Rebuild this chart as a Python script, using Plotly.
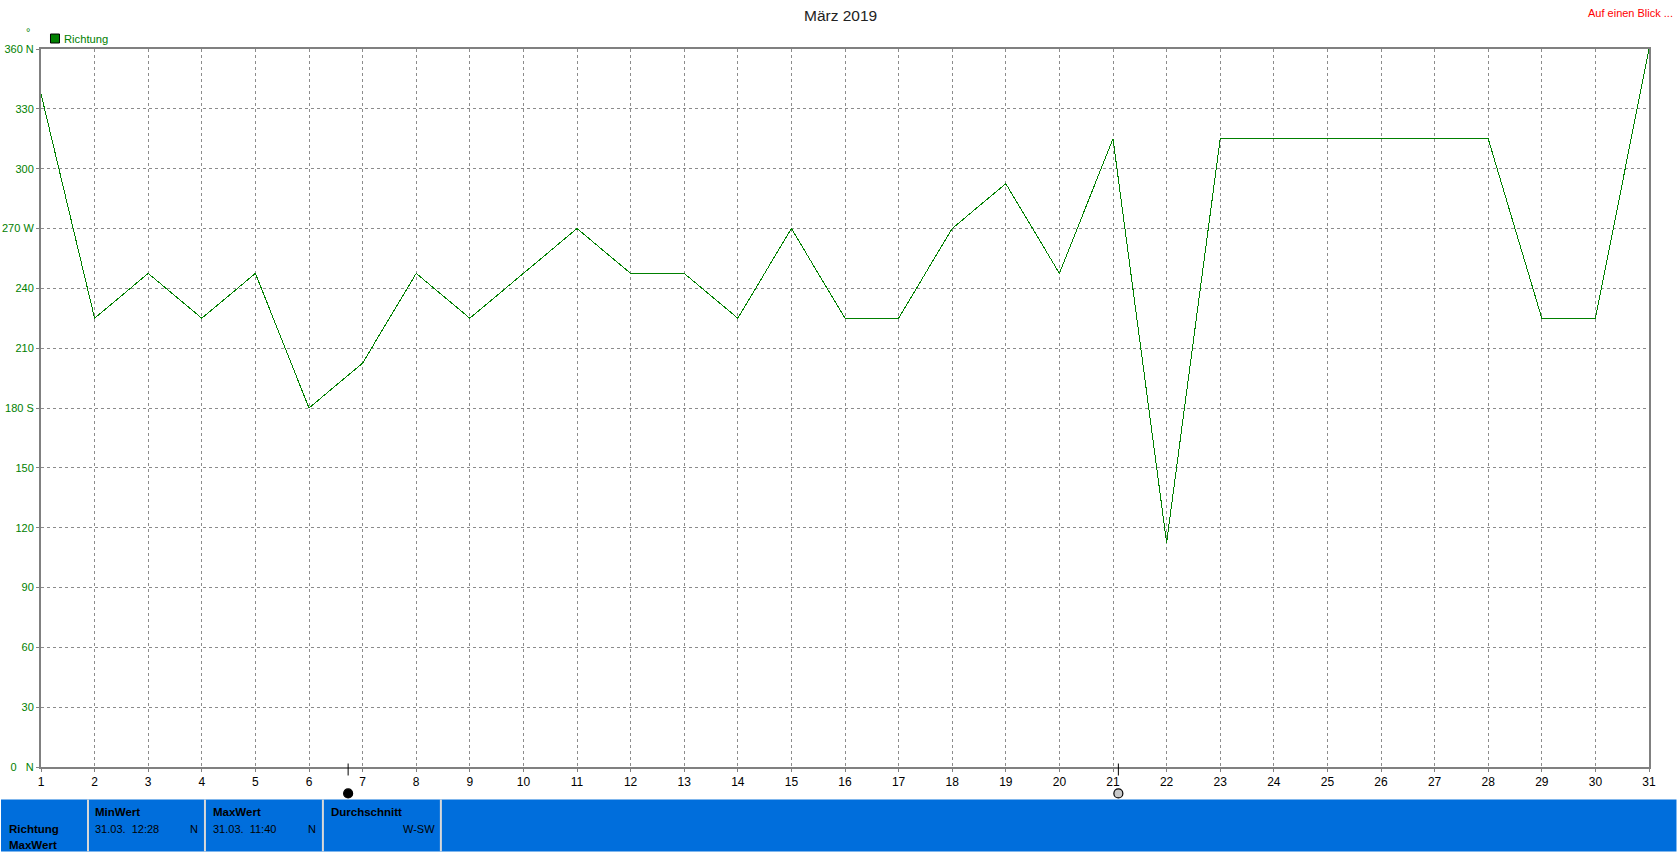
import plotly.graph_objects as go

days = list(range(1, 32))
richtung = [337.5, 225, 247.5, 225, 247.5, 180, 202.5, 247.5, 225, 247.5, 270,
            247.5, 247.5, 225, 270, 225, 225, 270, 292.5, 247.5, 315, 112.5,
            315, 315, 315, 315, 315, 315, 225, 225, 360]
y_ticks = [0, 30, 60, 90, 120, 150, 180, 210, 240, 270, 300, 330, 360]
y_labels = ["0   N", "30", "60", "90", "120", "150", "180 S", "210", "240",
            "270 W", "300", "330", "360 N"]
new_moon_day = 6.73
full_moon_day = 21.1

W, H = 1677, 852
L, R, T, B = 41, 1649.5, 48.5, 767.5
FONT = "Liberation Sans, Arial, sans-serif"
GREEN = "#008000"
BLUE = "#006EDC"
GRAY = "#808080"


def px(x):
    return (x - L) / (R - L)


def py(y):
    return (B - y) / (B - T)


fig = go.Figure()
fig.add_trace(go.Scatter(x=days, y=richtung, mode="lines", name="Richtung",
                         line=dict(color=GREEN, width=1), hoverinfo="skip",
                         cliponaxis=False))

shapes = []
annotations = []


def text(x, y, s, color="#000000", size=11, anchor="left", bold=False):
    annotations.append(dict(
        x=px(x), y=py(y), xref="paper", yref="paper", text=f"<b>{s}</b>" if bold else s,
        showarrow=False, xanchor=anchor, yanchor="middle", xshift=0, yshift=0,
        borderpad=0, font=dict(family=FONT, size=size, color=color)))


# bottom blue panel
shapes.append(dict(type="rect", xref="paper", yref="paper", x0=px(1), x1=px(W),
                   y0=py(800), y1=py(H), fillcolor=BLUE, line=dict(width=0), layer="below"))
for sx in [88, 205, 323, 441]:
    shapes.append(dict(type="line", xref="paper", yref="paper", x0=px(sx), x1=px(sx),
                       y0=py(800), y1=py(H), line=dict(color="#D8D8D8", width=2)))

text(8, 830, "Richtung", bold=True, size=11.5)
text(8, 846, "MaxWert", bold=True, size=11.5)
text(94, 813, "MinWert", bold=True, size=11.5)
text(94, 829.5, "31.03.  12:28")
text(199, 829.5, "N", anchor="right")
text(212, 813, "MaxWert", bold=True, size=11.5)
text(212, 829.5, "31.03.  11:40")
text(317, 829.5, "N", anchor="right")
text(330, 813, "Durchschnitt", bold=True, size=11.5)
text(436, 829.5, "W-SW", anchor="right")

# header
text(841, 15, "März 2019", size=15.5, anchor="center", color="#222222")
text(1675, 12, "Auf einen Blick ...", color="#FF0000", anchor="right")
text(28, 31, "°", color=GREEN, size=11, anchor="center")

# legend
shapes.append(dict(type="rect", xref="paper", yref="paper", x0=px(50.5), x1=px(59.5),
                   y0=py(33.5), y1=py(42.5), fillcolor=GREEN, line=dict(color="#000000", width=1)))
text(63.5, 38, "Richtung", color=GREEN, size=11.2)

# moon phases
for day, fill in [(new_moon_day, "#000000"), (full_moon_day, "#C8C8C8")]:
    shapes.append(dict(type="line", xref="x", yref="paper", x0=day, x1=day,
                       y0=py(764), y1=py(776), line=dict(color="#000000", width=1)))
    shapes.append(dict(type="circle", xref="x", yref="paper", xsizemode="pixel", ysizemode="pixel",
                       xanchor=day, yanchor=py(794), x0=-4.5, x1=4.5, y0=-4.5, y1=4.5,
                       fillcolor=fill, line=dict(color="#000000", width=1.2)))

fig.update_layout(
    width=W, height=H, autosize=False,
    margin=dict(l=L, r=W - R, t=T, b=H - B, pad=0, autoexpand=False),
    paper_bgcolor="#FFFFFF", plot_bgcolor="#FFFFFF",
    showlegend=False, shapes=shapes, annotations=annotations,
    font=dict(family=FONT, size=11.5),
    xaxis=dict(range=[1, 31], tickmode="array", tickvals=days, ticktext=[str(d) for d in days],
               automargin=False,
               showgrid=True, gridcolor="#8C8C8C", griddash="3px,3px", gridwidth=1,
               showline=True, linecolor=GRAY, linewidth=2, mirror=True,
               ticks="outside", ticklen=3, tickcolor=GRAY, tickwidth=1,
               tickfont=dict(family=FONT, size=12, color="#000000"), zeroline=False, fixedrange=True),
    yaxis=dict(range=[0, 360], tickmode="array", tickvals=y_ticks, ticktext=y_labels,
               automargin=False,
               showgrid=True, gridcolor="#8C8C8C", griddash="3px,3px", gridwidth=1,
               showline=True, linecolor=GRAY, linewidth=2, mirror=True,
               ticks="outside", ticklen=3, tickcolor=GRAY, tickwidth=1,
               tickfont=dict(family=FONT, size=11, color=GREEN), zeroline=False, fixedrange=True),
)

fig.write_html("out.html", config=dict(displayModeBar=False, responsive=False),
               post_script="document.body.style.margin='0';document.body.style.overflow='hidden';"
                           "document.querySelectorAll('.scatterlayer path').forEach(function(p){"
                           "p.style.shapeRendering='crispEdges';});")
